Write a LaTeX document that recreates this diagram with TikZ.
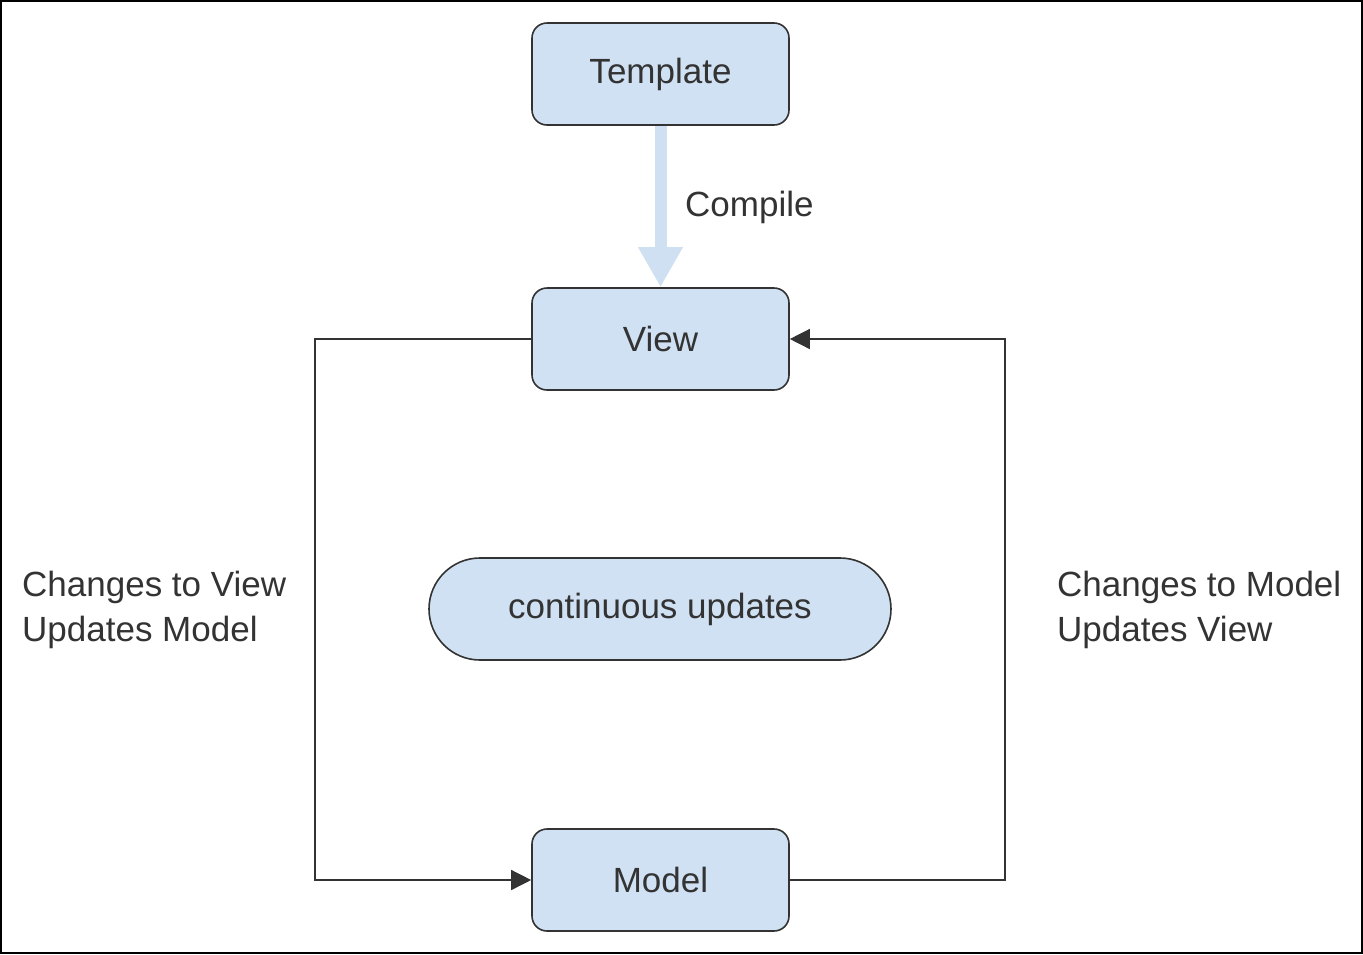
\documentclass[tikz,border=0pt]{standalone}
\usepackage{fontspec}
\setmainfont{Liberation Sans}
\usetikzlibrary{arrows.meta}
\definecolor{boxfill}{HTML}{D0E1F3}
\definecolor{ink}{HTML}{333333}
\definecolor{arrowblue}{HTML}{CFE0F3}
\tikzset{
  box/.style={draw=ink, line width=1.6pt, fill=boxfill, rounded corners=15pt,
    minimum width=257pt, minimum height=102pt, inner sep=0pt,
    text=ink, font=\fontsize{35}{42}\selectfont},
  pill/.style={draw=ink, line width=1.6pt, fill=boxfill, rounded corners=51pt,
    minimum width=462pt, minimum height=102pt, inner sep=0pt,
    text=ink, font=\fontsize{35}{42}\selectfont},
  lbl/.style={text=ink, font=\fontsize{35}{45}\selectfont, align=left, inner sep=0pt},
  conn/.style={draw=ink, line width=1.4pt},
  tip/.style={-{Triangle[length=20pt,width=20pt]}},
}
\begin{document}
\begin{tikzpicture}[x=1pt,y=-1pt]
\useasboundingbox (0,0) rectangle (1363,954);
\draw[line width=2pt, black] (1,1) rectangle (1362,953);
\node[box] (template) at (660.5,74) {Template};
\node[box] (view) at (660.5,339) {View};
\node[box] (model) at (660.5,880) {Model};
\node[pill] (cont) at (660,609) {continuous updates};
\draw[draw=arrowblue, line width=12pt, -{Triangle[length=40pt,width=42pt]}]
  (template.south) -- (view.north);
\node[lbl, anchor=west] (compile) at (685,207) {Compile};
\coordinate (lt) at (315,339);
\coordinate (lb) at (315,880);
\coordinate (rb) at (1005,880);
\coordinate (rt) at (1005,339);
\draw[conn, tip] (view.west) -- (lt) -- (lb) -- (model.west);
\draw[conn, tip] (model.east) -- (rb) -- (rt) -- (view.east);
\node[lbl, anchor=west] (leftlbl) at (22,610) {Changes to View\\Updates Model};
\node[lbl, anchor=west] (rightlbl) at (1057,610) {Changes to Model\\Updates View};
\end{tikzpicture}
\end{document}
